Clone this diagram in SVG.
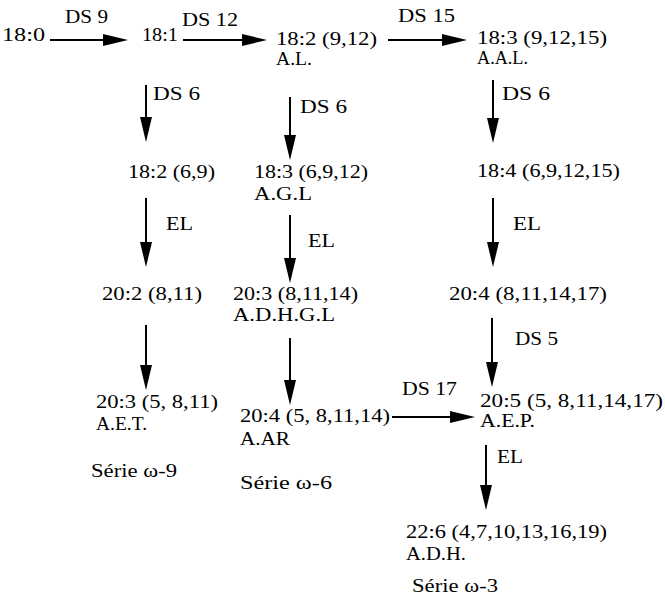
<svg xmlns="http://www.w3.org/2000/svg" width="665" height="598" viewBox="0 0 665 598">
<defs>
<marker id="ah" markerUnits="userSpaceOnUse" markerWidth="26" markerHeight="12" viewBox="0 0 25 12" refX="15" refY="6" orient="auto"><path d="M0,0 L25,6 L0,12 z" fill="#000"/></marker>
<style>
text{font-family:"Liberation Serif","Times New Roman",serif;font-size:18px;fill:#000}
.c line{stroke:#000;stroke-width:2;marker-end:url(#ah)}
</style>
</defs>
<rect width="665" height="598" fill="#fff"/>
<g class="c" id="connectors">
<line x1="50" y1="40" x2="118" y2="40"/>
<line x1="183" y1="40" x2="257" y2="40"/>
<line x1="388" y1="40" x2="457" y2="40"/>
<line x1="146" y1="85" x2="146" y2="132"/>
<line x1="290" y1="97" x2="290" y2="150"/>
<line x1="493" y1="80" x2="493" y2="133"/>
<line x1="146" y1="198" x2="146" y2="257"/>
<line x1="290" y1="215" x2="290" y2="273"/>
<line x1="493" y1="198" x2="493" y2="257"/>
<line x1="146" y1="325" x2="146" y2="380"/>
<line x1="290" y1="338" x2="290" y2="395"/>
<line x1="492" y1="318" x2="492" y2="377"/>
<line x1="392" y1="417" x2="465" y2="417"/>
<line x1="486" y1="445" x2="486" y2="500"/>
<text x="65" y="23" textLength="43" lengthAdjust="spacingAndGlyphs">DS 9</text>
<text x="182" y="26" textLength="56" lengthAdjust="spacingAndGlyphs">DS 12</text>
<text x="398" y="22" textLength="57" lengthAdjust="spacingAndGlyphs">DS 15</text>
<text x="153" y="100" textLength="47" lengthAdjust="spacingAndGlyphs">DS 6</text>
<text x="300" y="113" textLength="47" lengthAdjust="spacingAndGlyphs">DS 6</text>
<text x="502" y="100" textLength="48" lengthAdjust="spacingAndGlyphs">DS 6</text>
<text x="166" y="230" textLength="27" lengthAdjust="spacingAndGlyphs">EL</text>
<text x="308" y="247" textLength="27" lengthAdjust="spacingAndGlyphs">EL</text>
<text x="513" y="230" textLength="28" lengthAdjust="spacingAndGlyphs">EL</text>
<text x="515" y="345" textLength="43" lengthAdjust="spacingAndGlyphs">DS 5</text>
<text x="402" y="395" textLength="55" lengthAdjust="spacingAndGlyphs">DS 17</text>
<text x="497" y="463" textLength="26" lengthAdjust="spacingAndGlyphs">EL</text>
</g>
<g id="n1"><text x="2" y="41" textLength="43" lengthAdjust="spacingAndGlyphs">18:0</text></g>
<g id="n2"><text x="142" y="41" textLength="36" lengthAdjust="spacingAndGlyphs">18:1</text></g>
<g id="n3"><text x="276" y="45" textLength="101" lengthAdjust="spacingAndGlyphs">18:2 (9,12)</text><text x="276" y="65" textLength="36" lengthAdjust="spacingAndGlyphs">A.L.</text></g>
<g id="n4"><text x="477" y="44" textLength="130" lengthAdjust="spacingAndGlyphs">18:3 (9,12,15)</text><text x="477" y="64" textLength="51" lengthAdjust="spacingAndGlyphs">A.A.L.</text></g>
<g id="n5"><text x="128" y="178" textLength="87" lengthAdjust="spacingAndGlyphs">18:2 (6,9)</text></g>
<g id="n6"><text x="254" y="178" textLength="114" lengthAdjust="spacingAndGlyphs">18:3 (6,9,12)</text><text x="254" y="200" textLength="58" lengthAdjust="spacingAndGlyphs">A.G.L</text></g>
<g id="n7"><text x="477" y="177" textLength="143" lengthAdjust="spacingAndGlyphs">18:4 (6,9,12,15)</text></g>
<g id="n8"><text x="102" y="300" textLength="100" lengthAdjust="spacingAndGlyphs">20:2 (8,11)</text></g>
<g id="n9"><text x="233" y="300" textLength="125" lengthAdjust="spacingAndGlyphs">20:3 (8,11,14)</text><text x="233" y="321" textLength="102" lengthAdjust="spacingAndGlyphs">A.D.H.G.L</text></g>
<g id="n10"><text x="449" y="300" textLength="158" lengthAdjust="spacingAndGlyphs">20:4 (8,11,14,17)</text></g>
<g id="n11"><text x="96" y="408" textLength="122" lengthAdjust="spacingAndGlyphs">20:3 (5, 8,11)</text><text x="96" y="430" textLength="51" lengthAdjust="spacingAndGlyphs">A.E.T.</text></g>
<g id="n12"><text x="240" y="422" textLength="150" lengthAdjust="spacingAndGlyphs">20:4 (5, 8,11,14)</text><text x="240" y="445" textLength="50" lengthAdjust="spacingAndGlyphs">A.AR</text></g>
<g id="n13"><text x="480" y="407" textLength="183" lengthAdjust="spacingAndGlyphs">20:5 (5, 8,11,14,17)</text><text x="480" y="427" textLength="55" lengthAdjust="spacingAndGlyphs">A.E.P.</text></g>
<g id="n14"><text x="406" y="538" textLength="201" lengthAdjust="spacingAndGlyphs">22:6 (4,7,10,13,16,19)</text><text x="406" y="560" textLength="60" lengthAdjust="spacingAndGlyphs">A.D.H.</text></g>
<g id="s9"><text x="91" y="477" textLength="86" lengthAdjust="spacingAndGlyphs">Série ω-9</text></g>
<g id="s6"><text x="240" y="489" textLength="92" lengthAdjust="spacingAndGlyphs">Série ω-6</text></g>
<g id="s3"><text x="412" y="592" textLength="86" lengthAdjust="spacingAndGlyphs">Série ω-3</text></g>
</svg>
